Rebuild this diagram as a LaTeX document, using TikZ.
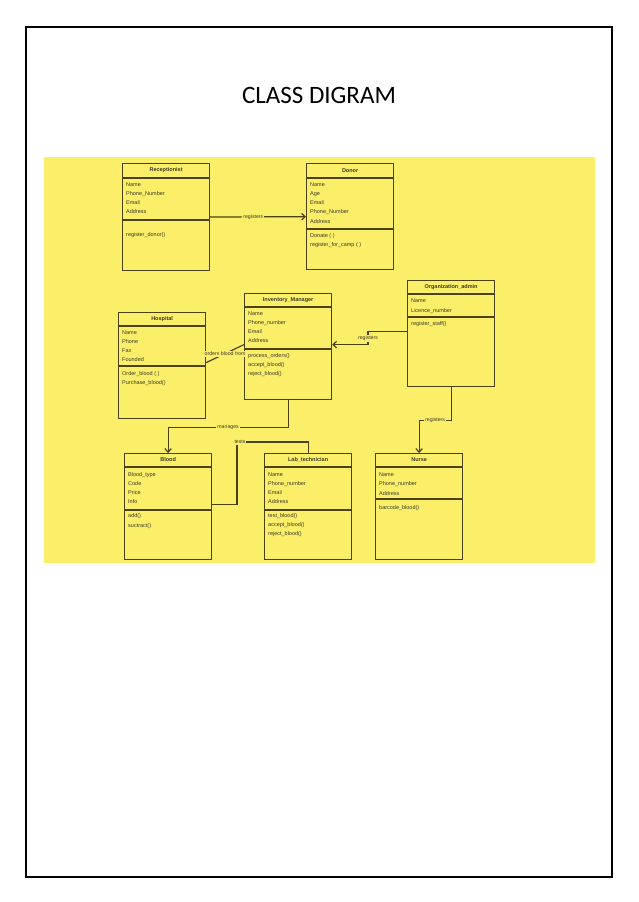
\documentclass[tikz,border=0pt]{standalone}
\usepackage{fontspec}
\setmainfont{Liberation Sans}
\newfontfamily\ttlfont{Carlito}
\usetikzlibrary{arrows.meta,calc}
\definecolor{diagyel}{HTML}{FBEE68}
\definecolor{diagline}{HTML}{4A4214}
\definecolor{diagtext}{HTML}{3A3A2A}
\newcommand{\clsfont}{\fontsize{5.5}{6}\selectfont}
\tikzset{
    linesty/.style={draw=diagline, line width=1.2pt},
    arrsty/.style={linesty, -{Straight Barb[length=3.5pt,width=6.5pt]}},
    classsty/.style={linesty, rectangle, inner sep=0pt, minimum width=87pt, anchor=north west},
    headsty/.style={font=\clsfont\bfseries, text=diagtext, inner sep=0pt},
    attrsty/.style={font=\clsfont, text=diagtext, inner sep=0pt, anchor=base west},
    lblsty/.style={font=\fontsize{5.2}{6}\selectfont, text=diagtext, fill=diagyel, inner sep=1pt},
    framesty/.style={draw=black, line width=1.3pt},
}
% box name, x, y, height, header line, attribute line, title
\newcommand{\umlcls}[7]{%
  \node[classsty, minimum height=#4] (#1) at (#2,#3) {};
  \draw[linesty] ([yshift=-#5]#1.north west) -- ([yshift=-#5]#1.north east);
  \draw[linesty] ([yshift=-#6]#1.north west) -- ([yshift=-#6]#1.north east);
  \node[headsty] (#1-t) at ([yshift=-#5/2]#1.north) {#7};
}
% box name, tag, first row centre, row pitch, rows
\newcommand{\clsrows}[5]{%
  \foreach \t [count=\i] in {#5}
    \node[attrsty] (#1-#2\i) at ([xshift=4pt,yshift={-(#3+2+#4*(\i-1))}]#1.north west) {\t};
}

\begin{document}
\begin{tikzpicture}[x=1pt,y=-1pt]
  \fill[white] (0,0) rectangle (638,902);
  \useasboundingbox (0,0) rectangle (638,902);
  \draw[framesty] (26,27) rectangle (612,877);
  \node[font=\ttlfont\fontsize{25}{30}\selectfont] (ttl) at (319,95) {CLASS DIGRAM};
  \fill[diagyel] (44,157) rectangle (595,563);

  \umlcls{rec}{122}{163}{107}{15}{57}{Receptionist}
  \clsrows{rec}{a}{21}{9.3}{Name,Phone\_Number,Email,Address}
  \clsrows{rec}{m}{71}{9.3}{register\_donor()}

  \umlcls{don}{306}{163}{106}{15}{66}{Donor}
  \clsrows{don}{a}{21}{9.3}{Name,Age,Email,Phone\_Number,Address}
  \clsrows{don}{m}{72}{9}{Donate ( ),register\_for\_camp ( )}

  \umlcls{hos}{118}{312}{106}{14}{54}{Hospital}
  \clsrows{hos}{a}{20}{9}{Name,Phone,Fax,Founded}
  \clsrows{hos}{m}{61}{9}{Order\_blood ( ),Purchase\_blood()}

  \umlcls{inv}{244}{293}{106}{14}{56}{Inventory\_Manager}
  \clsrows{inv}{a}{20}{9.3}{Name,Phone\_number,Email,Address}
  \clsrows{inv}{m}{62}{9}{process\_orders(),accept\_blood(),reject\_blood()}

  \umlcls{org}{407}{280}{106}{14}{37}{Organization\_admin}
  \clsrows{org}{a}{20}{10}{Name,Licence\_number}
  \clsrows{org}{m}{43}{9}{register\_staff()}

  \umlcls{blo}{124}{453}{106}{14}{57}{Blood}
  \clsrows{blo}{a}{21}{9.3}{Blood\_type,Code,Price,Info}
  \clsrows{blo}{m}{62}{10.7}{add(),suctract()}

  \umlcls{lab}{264}{453}{106}{14}{57}{Lab\_technician}
  \clsrows{lab}{a}{21}{9.3}{Name,Phone\_number,Email,Address}
  \clsrows{lab}{m}{62}{9}{test\_blood(),accept\_blood(),reject\_blood()}

  \umlcls{nur}{375}{453}{106}{14}{46}{Nurse}
  \clsrows{nur}{a}{21}{9.5}{Name,Phone\_number,Address}
  \clsrows{nur}{m}{54}{9}{barcode\_blood()}

  % connectors
  \draw[arrsty] (rec) -- node[lblsty, pos=0.45] (l1) {registers} (don);
  \draw[linesty] ([yshift=3pt]hos.east) -- node[lblsty] (l2) {orders blood from} ([yshift=2pt]inv.west);
  \draw[arrsty] ([yshift=2pt]org.west) -- ++(-39,0) |- node[lblsty, pos=0.25] (l3) {registers} ([yshift=2pt]inv.east);
  \draw[arrsty] (inv.south) -- ++(0,27) -| node[lblsty, pos=0.25] (l4) {manages} (blo.north);
  \coordinate (tst) at (237,442);
  \draw[linesty] ([yshift=2pt]blo.east) -| (tst) -| (lab.north);
  \node[lblsty] (l5) at ([xshift=3pt]tst) {tests};
  \draw[arrsty] (org.south) -- ++(0,33) -| node[lblsty, pos=0.25] (l6) {registers} (nur.north);
\end{tikzpicture}
\end{document}
